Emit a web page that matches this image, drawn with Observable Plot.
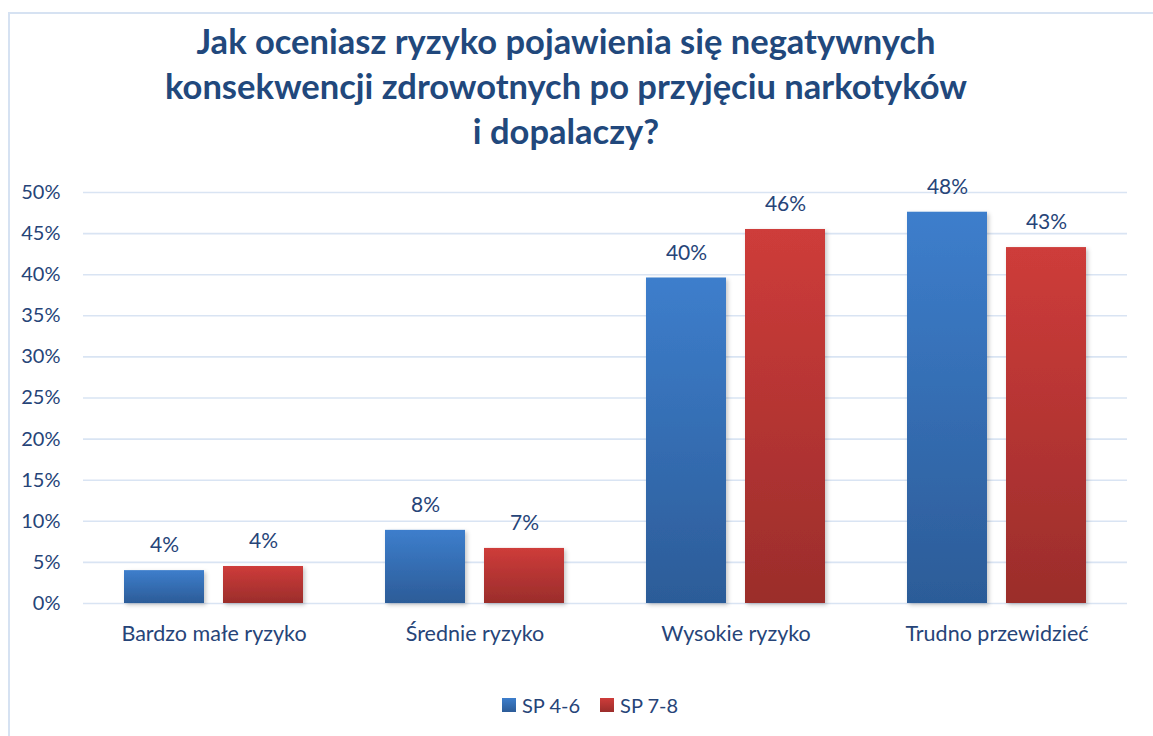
<!DOCTYPE html>
<html>
<head>
<meta charset="utf-8">
<script src="https://cdn.jsdelivr.net/npm/d3@7"></script>
<script src="https://cdn.jsdelivr.net/npm/@observablehq/plot@0.6"></script>
<style>
  html, body { margin: 0; padding: 0; background: #fff; }
  #wrap { position: relative; width: 1153px; height: 736px; overflow: hidden; font-family: Lato, "Open Sans", sans-serif; }
  #frame { position: absolute; left: 8px; top: 12px; width: 1200px; height: 800px; border-left: 2px solid #D6E2F2; border-top: 2px solid #D6E2F2; }
  #title { position: absolute; left: 0; width: 1132px; top: 18px; text-align: center; color: #21487C; font-weight: 700; font-size: 34.5px; line-height: 45px; }
  #chart { position: absolute; left: 0; top: 0; }
  #legend { position: absolute; top: 693px; left: 502px; font-size: 20px; color: #264478; display: flex; align-items: center; }
  #legend .sw { display: inline-block; width: 14px; height: 14px; margin-right: 6px; }
  #legend .item { display: flex; align-items: center; margin-right: 20px; }
</style>
</head>
<body>
<div id="wrap">
  <div id="frame"></div>
  <div id="title">Jak oceniasz ryzyko pojawienia się negatywnych<br>konsekwencji zdrowotnych po przyjęciu narkotyków<br>i dopalaczy?</div>
  <div id="chart"></div>
  <div id="legend"></div>
</div>
<script>
const categories = ["Bardzo małe ryzyko", "Średnie ryzyko", "Wysokie ryzyko", "Trudno przewidzieć"];
const series = ["SP 4-6", "SP 7-8"];
const valuesSP46 = [0.040, 0.089, 0.396, 0.476];
const valuesSP78 = [0.045, 0.067, 0.455, 0.433];
const labelsSP46 = ["4%", "8%", "40%", "48%"];
const labelsSP78 = ["4%", "7%", "46%", "43%"];
const yTicks = [0, 0.05, 0.10, 0.15, 0.20, 0.25, 0.30, 0.35, 0.40, 0.45, 0.50];

const data = [];
categories.forEach((c, i) => {
  data.push({category: c, series: series[0], value: valuesSP46[i], label: labelsSP46[i]});
  data.push({category: c, series: series[1], value: valuesSP78[i], label: labelsSP78[i]});
});

const textColor = "#264478";
const gridColor = "#D9E4F3";

const plot = Plot.plot({
  width: 1153,
  height: 736,
  marginLeft: 82,
  marginRight: 26,
  marginTop: 192,
  marginBottom: 133,
  style: { fontFamily: "Lato, 'Open Sans', sans-serif", fontSize: "20px", color: textColor, background: "transparent", overflow: "visible" },
  fx: { domain: categories, padding: 0, label: null },
  x: { domain: series, paddingInner: 0.19, paddingOuter: 0.4, axis: null },
  y: { domain: [0, 0.5], axis: null },
  color: { domain: series, range: ["url(#gradBlue)", "url(#gradRed)"] },
  marks: [
    Plot.ruleY(yTicks, { stroke: gridColor, strokeWidth: 1.6 }),
    Plot.axisY(yTicks, { tickSize: 0, tickPadding: 23, tickFormat: d3.format(".0%"), fill: textColor, fontSize: 20, label: null }),
    Plot.axisFx({ anchor: "bottom", tickSize: 0, tickPadding: 22, fill: textColor, fontSize: 21.5, label: null }),
    Plot.barY(data, { fx: "category", x: "series", y: "value", fill: "series", className: "bars" }),
    Plot.text(data, { fx: "category", x: "series", y: "value", text: "label", dy: -25, fill: textColor, fontSize: 21 })
  ]
});

const svg = d3.select(plot);
const defs = svg.insert("defs", ":first-child");
function grad(id, top, bottom) {
  const g = defs.append("linearGradient").attr("id", id).attr("x1", 0).attr("y1", 0).attr("x2", 0).attr("y2", 1);
  g.append("stop").attr("offset", "0%").attr("stop-color", top);
  g.append("stop").attr("offset", "100%").attr("stop-color", bottom);
}
grad("gradBlue", "#3D7ECC", "#2C5C98");
grad("gradRed", "#CE3C3A", "#9B2D2B");
const f = defs.append("filter").attr("id", "shadow").attr("x", "-10%").attr("y", "-10%").attr("width", "130%").attr("height", "130%");
f.append("feDropShadow").attr("dx", 2).attr("dy", 2).attr("stdDeviation", 2).attr("flood-color", "#000").attr("flood-opacity", 0.22);
svg.selectAll("g.bars").attr("filter", "url(#shadow)");

document.getElementById("chart").appendChild(plot);

const legend = d3.select("#legend");
const legendFills = ["linear-gradient(#3D7ECC, #2C5C98)", "linear-gradient(#CE3C3A, #9B2D2B)"];
series.forEach((s, i) => {
  const item = legend.append("span").attr("class", "item");
  item.append("span").attr("class", "sw").style("background", legendFills[i]);
  item.append("span").text(s);
});
</script>
</body>
</html>
